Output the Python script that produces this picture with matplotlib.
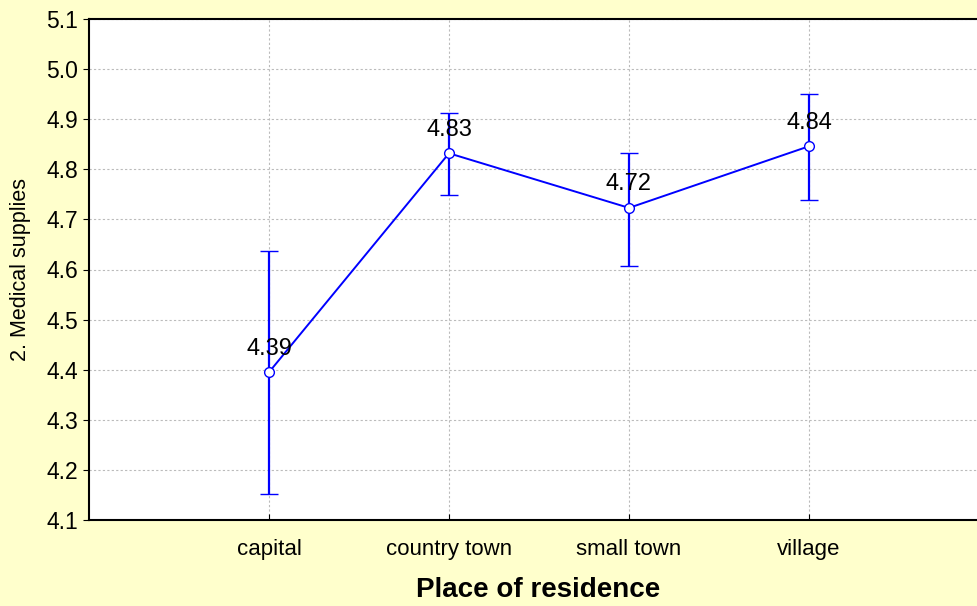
import matplotlib
matplotlib.use("Agg")
import matplotlib.pyplot as plt

# Data
categories = ["capital", "country town", "small town", "village"]
means = [4.395, 4.832, 4.723, 4.846]
upper = [4.637, 4.912, 4.832, 4.950]
lower = [4.152, 4.749, 4.607, 4.739]
labels = ["4.39", "4.83", "4.72", "4.84"]

plt.rcParams['font.family'] = ['Liberation Sans', 'DejaVu Sans']

fig = plt.figure(figsize=(9.78, 6.06), dpi=100)
fig.patch.set_facecolor('#FFFFCC')
ax = fig.add_axes([89 / 978, 86 / 606, 889 / 978, 501 / 606])
ax.set_facecolor('white')

xs = list(range(1, len(categories) + 1))
err_lo = [m - l for m, l in zip(means, lower)]
err_hi = [u - m for m, u in zip(means, upper)]

ax.errorbar(xs, means, yerr=[err_lo, err_hi], color='#0000FF', lw=1.4,
            elinewidth=1.6, capsize=6.5, capthick=1.6, marker='o', ms=7,
            mfc='white', mec='#0000FF', mew=1.0, zorder=3)

for x, m, t in zip(xs, means, labels):
    ax.annotate(t, (x, m), xytext=(0, 9), textcoords='offset points',
                ha='center', va='bottom', fontsize=17, color='black', zorder=4)

ax.set_xlim(0, 889 / 180)
ax.set_ylim(4.1, 5.1)
ax.set_yticks([4.1 + 0.1 * i for i in range(11)])
ax.set_yticklabels(["%.1f" % (4.1 + 0.1 * i) for i in range(11)], fontsize=16.5)
ax.set_xticks(xs)
ax.set_xticklabels(categories, fontsize=16)

ax.grid(True, color='#BBBBBB', linestyle=(0, (2, 2)), linewidth=0.8)
ax.set_axisbelow(True)
ax.spines['right'].set_visible(False)
for s in ['left', 'top', 'bottom']:
    ax.spines[s].set_linewidth(1.5)
    ax.spines[s].set_color('black')

ax.tick_params(axis='x', direction='in', length=4, pad=14)
ax.tick_params(axis='y', direction='out', length=4, pad=4)

ax.set_ylabel('2. Medical supplies', fontsize=15.5)
ax.yaxis.set_label_coords(-58 / 889, 0.5)
ax.set_xlabel('Place of residence', fontsize=20, fontweight='bold')
ax.xaxis.set_label_coords(0.505, -57 / 501)

fig.savefig('out.png', dpi=100, facecolor=fig.get_facecolor())
